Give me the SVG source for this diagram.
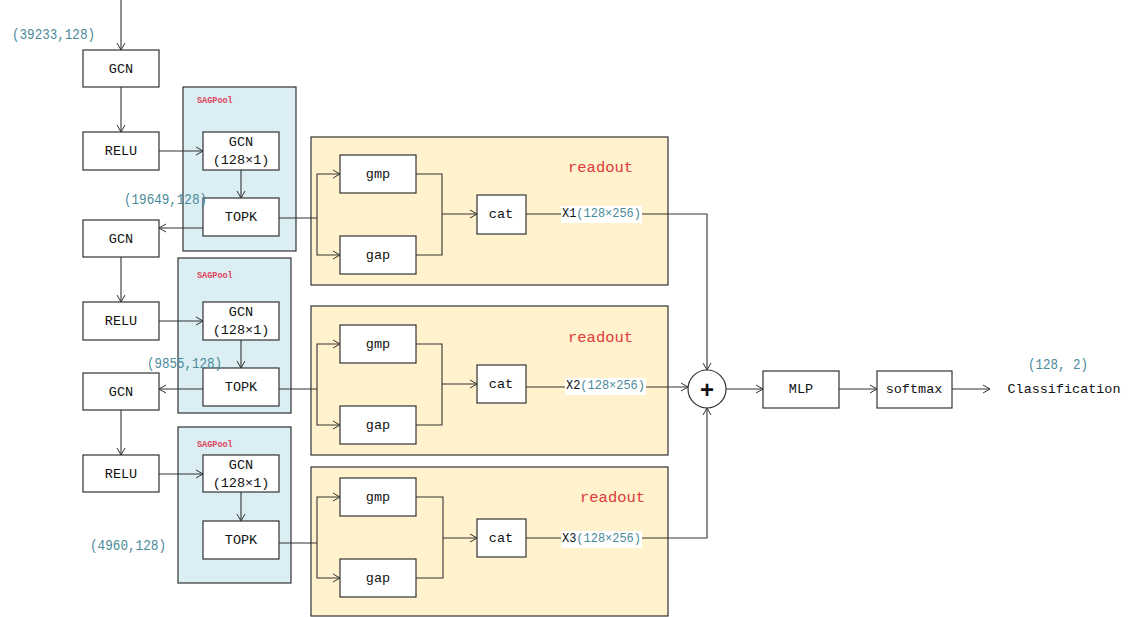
<svg xmlns="http://www.w3.org/2000/svg" width="1130" height="617" viewBox="0 0 1130 617">
<defs>
<marker id="arr" markerWidth="10" markerHeight="10" refX="9" refY="5" orient="auto" markerUnits="userSpaceOnUse">
<path d="M2,1 L9,5 L2,9" fill="none" stroke="#333" stroke-width="1"/>
</marker>
<style>
.box{fill:#fff;stroke:#333;stroke-width:1.2}
.sag{fill:#daeef3;stroke:#333;stroke-width:1.2}
.ro{fill:#fff2cc;stroke:#333;stroke-width:1.2}
.t{font-family:"Liberation Mono",monospace;font-size:13.5px;fill:#111;text-anchor:middle;dominant-baseline:central}
.dim{font-family:"Liberation Mono",monospace;font-size:14px;fill:#4a8a98;dominant-baseline:central}
.red{font-family:"Liberation Mono",monospace;font-size:15.5px;fill:#e03c3c;dominant-baseline:central}
.sl{font-family:"Liberation Mono",monospace;font-size:8.5px;fill:#e0405a;font-weight:bold;dominant-baseline:central}
.lbl{font-family:"Liberation Mono",monospace;font-size:12.5px;dominant-baseline:central}
.c{fill:none;stroke:#333;stroke-width:1.1}
.a{fill:none;stroke:#333;stroke-width:1.1;marker-end:url(#arr)}
</style>
</defs>
<rect width="1130" height="617" fill="#fff"/>

<g id="sagpool1"><rect class="sag" x="183" y="87" width="113" height="164"/><text class="sl" x="197" y="101">SAGPool</text></g>
<g id="sagpool2"><rect class="sag" x="178" y="258" width="113" height="155"/><text class="sl" x="197" y="276">SAGPool</text></g>
<g id="sagpool3"><rect class="sag" x="178" y="427" width="113" height="156"/><text class="sl" x="197" y="445">SAGPool</text></g>

<g id="readout1"><rect class="ro" x="311" y="137" width="357" height="148"/><text class="red" x="568" y="168">readout</text></g>
<g id="readout2"><rect class="ro" x="311" y="306" width="357" height="149"/><text class="red" x="568" y="338">readout</text></g>
<g id="readout3"><rect class="ro" x="311" y="467" width="357" height="149"/><text class="red" x="580" y="498">readout</text></g>

<g id="connectors">
<path class="a" d="M121,0 V50"/>
<path class="a" d="M121,87 V132"/>
<path class="a" d="M159,151 H203"/>
<path class="a" d="M241,170 V198"/>
<path class="a" d="M203,228 H159"/>
<path class="a" d="M121,257 V302"/>
<path class="a" d="M159,321 H203"/>
<path class="a" d="M241,340 V368"/>
<path class="a" d="M203,389 H159"/>
<path class="a" d="M121,410 V455"/>
<path class="a" d="M159,474 H203"/>
<path class="a" d="M241,492 V521"/>

<path class="c" d="M279,218 H317"/>
<path class="a" d="M317,218 V174 H340"/>
<path class="a" d="M317,218 V255 H340"/>
<path class="c" d="M416,174 H442 V255 H416"/>
<path class="a" d="M442,214 H477"/>
<path class="a" d="M526,214 H707 V370"/>

<path class="c" d="M279,389 H317"/>
<path class="a" d="M317,389 V344 H340"/>
<path class="a" d="M317,389 V425 H340"/>
<path class="c" d="M416,344 H442 V425 H416"/>
<path class="a" d="M442,384 H477"/>
<path class="a" d="M526,387 H688"/>

<path class="c" d="M279,543 H317"/>
<path class="a" d="M317,543 V497 H340"/>
<path class="a" d="M317,543 V578 H340"/>
<path class="c" d="M416,497 H443 V578 H416"/>
<path class="a" d="M443,538 H477"/>
<path class="a" d="M526,538 H707 V408"/>

<path class="a" d="M726,389 H763"/>
<path class="a" d="M839,389 H877"/>
<path class="a" d="M952,389 H990"/>
</g>

<g id="gcn1"><rect class="box" x="83" y="50" width="76" height="37"/><text class="t" x="121" y="69">GCN</text></g>
<g id="relu1"><rect class="box" x="83" y="132" width="76" height="38"/><text class="t" x="121" y="151">RELU</text></g>
<g id="gcn2"><rect class="box" x="83" y="220" width="76" height="37"/><text class="t" x="121" y="239">GCN</text></g>
<g id="relu2"><rect class="box" x="83" y="302" width="76" height="38"/><text class="t" x="121" y="321">RELU</text></g>
<g id="gcn3"><rect class="box" x="83" y="373" width="76" height="37"/><text class="t" x="121" y="392">GCN</text></g>
<g id="relu3"><rect class="box" x="83" y="455" width="76" height="37"/><text class="t" x="121" y="474">RELU</text></g>

<g id="sgcn1"><rect class="box" x="203" y="132" width="76" height="38"/><text class="t" x="241" y="142">GCN</text><text class="t" x="241" y="160">(128×1)</text></g>
<g id="topk1"><rect class="box" x="203" y="198" width="76" height="38"/><text class="t" x="241" y="217">TOPK</text></g>
<g id="sgcn2"><rect class="box" x="203" y="302" width="76" height="38"/><text class="t" x="241" y="312">GCN</text><text class="t" x="241" y="330">(128×1)</text></g>
<g id="topk2"><rect class="box" x="203" y="368" width="76" height="38"/><text class="t" x="241" y="387">TOPK</text></g>
<g id="sgcn3"><rect class="box" x="203" y="455" width="76" height="37"/><text class="t" x="241" y="465">GCN</text><text class="t" x="241" y="483">(128×1)</text></g>
<g id="topk3"><rect class="box" x="203" y="521" width="76" height="38"/><text class="t" x="241" y="540">TOPK</text></g>

<g id="gmp1"><rect class="box" x="340" y="155" width="76" height="38"/><text class="t" x="378" y="174">gmp</text></g>
<g id="gap1"><rect class="box" x="340" y="236" width="76" height="38"/><text class="t" x="378" y="255">gap</text></g>
<g id="cat1"><rect class="box" x="477" y="195" width="49" height="39"/><text class="t" x="501" y="214">cat</text></g>
<g id="gmp2"><rect class="box" x="340" y="325" width="76" height="38"/><text class="t" x="378" y="344">gmp</text></g>
<g id="gap2"><rect class="box" x="340" y="406" width="76" height="38"/><text class="t" x="378" y="425">gap</text></g>
<g id="cat2"><rect class="box" x="477" y="365" width="49" height="38"/><text class="t" x="501" y="384">cat</text></g>
<g id="gmp3"><rect class="box" x="340" y="478" width="76" height="38"/><text class="t" x="378" y="497">gmp</text></g>
<g id="gap3"><rect class="box" x="340" y="559" width="76" height="38"/><text class="t" x="378" y="578">gap</text></g>
<g id="cat3"><rect class="box" x="477" y="519" width="49" height="38"/><text class="t" x="501" y="538">cat</text></g>

<g id="x1"><rect x="561" y="206" width="81" height="17" fill="#fff"/><text class="lbl" x="562" y="214" textLength="79" lengthAdjust="spacingAndGlyphs"><tspan fill="#111">X1</tspan><tspan fill="#4a8a98">(128×256)</tspan></text></g>
<g id="x2"><rect x="565" y="378" width="81" height="17" fill="#fff"/><text class="lbl" x="566" y="386" textLength="79" lengthAdjust="spacingAndGlyphs"><tspan fill="#111">X2</tspan><tspan fill="#4a8a98">(128×256)</tspan></text></g>
<g id="x3"><rect x="561" y="531" width="81" height="17" fill="#fff"/><text class="lbl" x="562" y="539" textLength="79" lengthAdjust="spacingAndGlyphs"><tspan fill="#111">X3</tspan><tspan fill="#4a8a98">(128×256)</tspan></text></g>

<g id="sum"><circle cx="707" cy="389" r="19" fill="#fff" stroke="#333" stroke-width="1.2"/><text x="707" y="389" font-family="Liberation Sans,sans-serif" font-size="24" font-weight="bold" fill="#111" text-anchor="middle" dominant-baseline="central">+</text></g>
<g id="mlp"><rect class="box" x="763" y="371" width="76" height="37"/><text class="t" x="801" y="389">MLP</text></g>
<g id="softmax"><rect class="box" x="877" y="371" width="75" height="37"/><text class="t" x="914" y="389">softmax</text></g>

<g id="labels">
<text class="dim" x="12" y="35" textLength="83" lengthAdjust="spacingAndGlyphs">(39233,128)</text>
<text class="dim" x="124" y="200" textLength="83" lengthAdjust="spacingAndGlyphs">(19649,128)</text>
<text class="dim" x="147" y="364" textLength="75" lengthAdjust="spacingAndGlyphs">(9855,128)</text>
<text class="dim" x="90" y="546" textLength="76" lengthAdjust="spacingAndGlyphs">(4960,128)</text>
<text class="dim" x="1028" y="365" textLength="60" lengthAdjust="spacingAndGlyphs">(128, 2)</text>
<text class="t" x="1064" y="389" textLength="113" lengthAdjust="spacingAndGlyphs">Classification</text>
</g>
</svg>
